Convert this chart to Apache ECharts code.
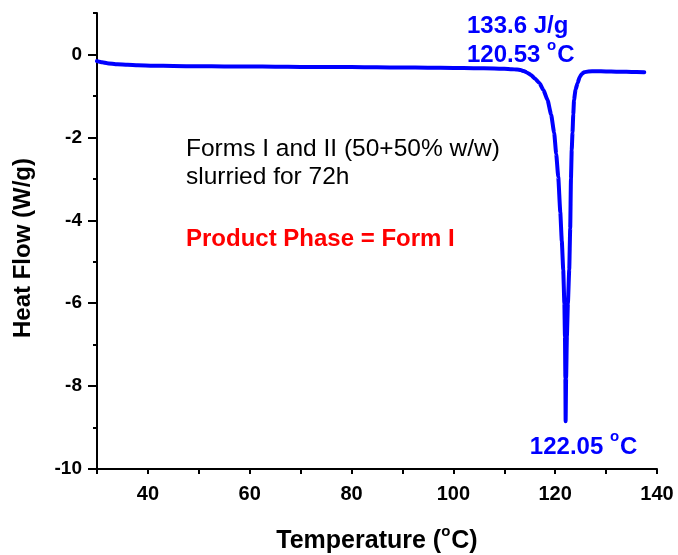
<!DOCTYPE html>
<html>
<head>
<meta charset="utf-8">
<title>DSC thermogram</title>
<script src="https://cdn.jsdelivr.net/npm/echarts@6/dist/echarts.min.js"></script>
<style>
  html, body { margin: 0; padding: 0; background: #fff; }
  #chart { width: 678px; height: 555px; }
</style>
</head>
<body>
<div id="chart"></div>
<script>
// DSC trace: temperature (°C) and heat flow (W/g)
const temperature = [
  30, 31, 32, 34, 36, 38, 41, 45, 50, 55, 60, 65, 70, 75, 80, 85, 90, 95, 100, 104, 108,
  110, 111.5, 112.5, 113.2, 113.8, 114.5, 115.3, 116.0, 116.9, 117.7, 118.5, 119.2, 119.8,
  120.2, 120.6, 121.0, 121.3, 121.58, 121.8, 121.92, 122.0, 122.05,
  122.15, 122.3, 122.5, 122.76, 122.95, 123.1, 123.25, 123.4, 123.55, 123.7, 124.0, 124.4,
  124.8, 125.2, 125.7, 126.5, 128, 130, 132, 134, 136, 137.5
];
const heatFlow = [
  -0.16, -0.19, -0.21, -0.235, -0.25, -0.26, -0.27, -0.28, -0.285, -0.29, -0.29, -0.295, -0.30, -0.30, -0.305, -0.31, -0.315, -0.32, -0.325, -0.33, -0.34,
  -0.345, -0.355, -0.365, -0.375, -0.40, -0.44, -0.50, -0.58, -0.69, -0.86, -1.10, -1.45, -1.89,
  -2.40, -2.95, -3.80, -4.50, -5.19, -6.00, -6.80, -7.80, -8.85,
  -7.80, -6.80, -6.00, -5.19, -4.20, -3.00, -2.30, -1.89, -1.45, -1.10, -0.85, -0.69,
  -0.55, -0.47, -0.43, -0.41, -0.405, -0.41, -0.415, -0.42, -0.425, -0.43
];

// axis ticks and labels
const xLabelValues = [40, 60, 80, 100, 120, 140];
const yLabelValues = [0, -2, -4, -6, -8, -10];
const yMinorValues = [1, -1, -3, -5, -7, -9];

// peak annotations
const peakTemp = 122.05;
const peakFlow = -8.85;
const enthalpy = 133.6;
const onsetTemp = 120.53;

const BLUE = '#0000ff';
const FONT = '"Liberation Sans", Arial, Helvetica, sans-serif';

// raised small "o" used as the degree sign
function supStyle(color) {
  return {
    fontSize: 15, fontWeight: 'bold', fontFamily: FONT, color: color,
    verticalAlign: 'middle', lineHeight: 10, padding: [0, 1, 20, 0]
  };
}

const chart = echarts.init(document.getElementById('chart'), null, { renderer: 'canvas' });

const axisLineStyle = { color: '#000', width: 2 };

chart.setOption({
  animation: false,
  backgroundColor: '#fff',
  grid: { left: 97, right: 21, top: 13, bottom: 86, containLabel: false, outerBoundsMode: 'none' },
  xAxis: {
    type: 'value',
    min: 30, max: 140, interval: 10,
    name: 'Temperature ({s|o}C)',
    nameLocation: 'middle',
    nameGap: 60,
    nameTextStyle: {
      fontSize: 25, fontWeight: 'bold', fontFamily: FONT, color: '#000',
      rich: { s: supStyle('#000') }
    },
    axisLine: { show: true, lineStyle: axisLineStyle, onZero: false },
    axisTick: { show: true, inside: false, length: 5, lineStyle: { color: '#000', width: 2 } },
    axisLabel: {
      customValues: xLabelValues,
      margin: 15, fontSize: 20, fontWeight: 'bold', fontFamily: FONT, color: '#000'
    },
    splitLine: { show: false }
  },
  yAxis: [
    {
      type: 'value',
      min: -10, max: 1,
      name: 'Heat Flow (W/g)',
      nameLocation: 'middle',
      nameGap: 62,
      nameRotate: 90,
      nameTextStyle: { fontSize: 24, fontWeight: 'bold', fontFamily: FONT, color: '#000', padding: [0, 0, 0, -14] },
      axisLine: { show: true, lineStyle: axisLineStyle, onZero: false },
      axisTick: { show: true, customValues: yLabelValues, length: 9, lineStyle: { color: '#000', width: 2 } },
      axisLabel: {
        customValues: yLabelValues,
        margin: 15, fontSize: 19, fontWeight: 'bold', fontFamily: FONT, color: '#000'
      },
      splitLine: { show: false }
    },
    {
      type: 'value',
      min: -10, max: 1,
      position: 'left',
      axisLine: { show: false },
      axisTick: { show: true, customValues: yMinorValues, length: 4, lineStyle: { color: '#000', width: 2 } },
      axisLabel: { show: false },
      splitLine: { show: false }
    }
  ],
  series: [
    {
      type: 'line',
      xAxisIndex: 0,
      yAxisIndex: 0,
      data: temperature.map((t, i) => [t, heatFlow[i]]),
      showSymbol: false,
      smooth: 0.15,
      smoothMonotone: 'x',
      lineStyle: { color: BLUE, width: 4, cap: 'round', join: 'round' },
      markPoint: {
        symbol: 'circle',
        symbolSize: 0,
        silent: true,
        data: [{
          coord: [peakTemp, peakFlow],
          label: {
            show: true,
            position: 'bottom',
            offset: [18, 9],
            formatter: peakTemp.toFixed(2) + ' {s|o}C',
            fontSize: 24, fontWeight: 'bold', fontFamily: FONT, color: BLUE,
            rich: { s: supStyle(BLUE) }
          }
        }]
      }
    }
  ],
  graphic: [
    {
      type: 'text', left: 467, top: 12,
      style: {
        text: enthalpy.toFixed(1) + ' J/g\n' + onsetTemp.toFixed(2) + ' {s|o}C',
        fontSize: 24, fontWeight: 'bold', fontFamily: FONT, fill: BLUE, lineHeight: 29,
        rich: { s: supStyle(BLUE) }
      }
    },
    {
      type: 'text', left: 186, top: 135,
      style: {
        text: 'Forms I and II (50+50% w/w)\nslurried for 72h',
        fontSize: 24.5, fontFamily: FONT, fill: '#000', lineHeight: 28
      }
    },
    {
      type: 'text', left: 186, top: 227,
      style: {
        text: 'Product Phase = Form I',
        fontSize: 24, fontWeight: 'bold', fontFamily: FONT, fill: '#ff0000'
      }
    }
  ]
});
</script>
</body>
</html>
